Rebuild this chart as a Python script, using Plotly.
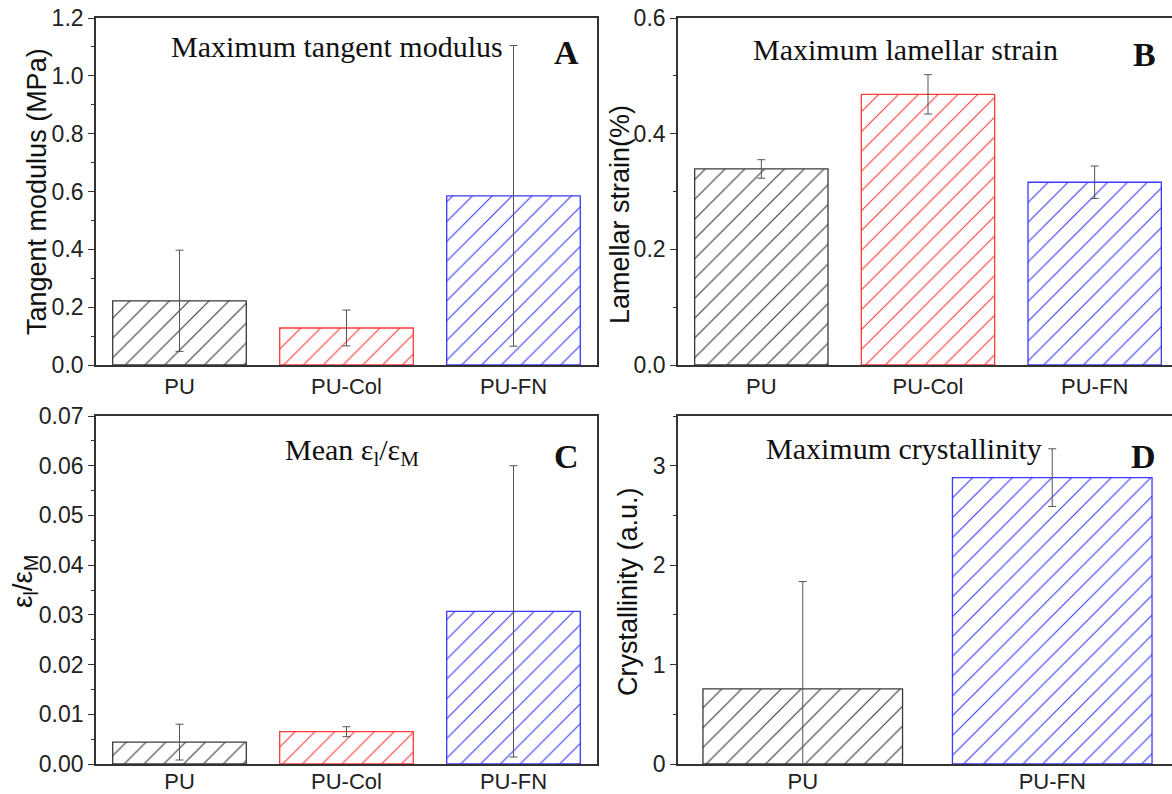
import plotly.graph_objects as go

W, H = 1172, 794

cats_abc = ["PU", "PU-Col", "PU-FN"]
cats_d = ["PU", "PU-FN"]
colors_abc = ["#3a3a3a", "#ff3b3b", "#3b3bff"]
colors_d = ["#3a3a3a", "#3b3bff"]

modulus_vals = [0.222, 0.128, 0.585]
modulus_err = [0.175, 0.062, 0.520]
strain_vals = [0.339, 0.468, 0.316]
strain_err = [0.016, 0.034, 0.028]
ratio_vals = [0.0044, 0.0065, 0.0307]
ratio_err = [0.0036, 0.0010, 0.0293]
cryst_vals = [0.755, 2.88]
cryst_err = [1.08, 0.29]

SANS = "Liberation Sans, Arial, sans-serif"
SERIF = "Liberation Serif, Times New Roman, serif"

fig = go.Figure()


def add_bars(xa, ya, cats, vals, errs, cols):
    fig.add_trace(go.Bar(
        x=cats, y=vals, xaxis=xa, yaxis=ya, width=0.8,
        marker=dict(color="white", line=dict(color=cols, width=1.3),
                    pattern=dict(shape="/", fgcolor=cols, fgopacity=1, size=14, solidity=0.08,
                                 fillmode="overlay")),
        error_y=dict(type="data", array=errs, color="#555555", thickness=1, width=4),
        showlegend=False,
    ))


add_bars("x", "y", cats_abc, modulus_vals, modulus_err, colors_abc)
add_bars("x2", "y2", cats_abc, strain_vals, strain_err, colors_abc)
add_bars("x3", "y3", cats_abc, ratio_vals, ratio_err, colors_abc)
add_bars("x4", "y4", cats_d, cryst_vals, cryst_err, colors_d)


def px_x(v):
    return v / W


def px_y(v):
    return 1 - v / H


LINE = "#333333"
xa_top = dict(showline=True, linecolor=LINE, linewidth=1.6, mirror=True, ticks="",
              showgrid=False, zeroline=False, automargin=False,
              tickfont=dict(family=SANS, size=22, color="#222"),
              ticklabelstandoff=1)
xa_bot = dict(xa_top, ticklabelstandoff=-3)
ya_common = dict(showline=True, linecolor=LINE, linewidth=1.6, ticks="outside", ticklen=6,
                 tickwidth=1.3, tickcolor=LINE, showgrid=False, zeroline=False, automargin=False,
                 tickfont=dict(family=SANS, size=23, color="#222"))

xdomL = [px_x(96), px_x(597)]
xdomR = [px_x(678), 1.0]
ydomT = [px_y(365), px_y(18)]
ydomB = [px_y(764), px_y(416)]

fig.update_layout(
    width=W, height=H, margin=dict(l=0, r=0, t=0, b=0),
    plot_bgcolor="white", paper_bgcolor="white", bargap=0.2,
    xaxis=dict(domain=xdomL, anchor="y", range=[-0.5, 2.5], **xa_top),
    yaxis=dict(domain=ydomT, anchor="x", range=[0, 1.2], dtick=0.2, tickformat=".1f", mirror=True,
               minor=dict(dtick=0.1, ticks="outside", ticklen=3, tickcolor=LINE), **ya_common),
    xaxis2=dict(domain=xdomR, anchor="y2", range=[-0.5, 2.464], **xa_top),
    yaxis2=dict(domain=ydomT, anchor="x2", range=[0, 0.6], dtick=0.2, tickformat=".1f", mirror=False,
                minor=dict(dtick=0.1, ticks="outside", ticklen=3, tickcolor=LINE), **ya_common),
    xaxis3=dict(domain=xdomL, anchor="y3", range=[-0.5, 2.5], **xa_bot),
    yaxis3=dict(domain=ydomB, anchor="x3", range=[0, 0.07], dtick=0.01, tickformat=".2f", mirror=True,
                minor=dict(dtick=0.005, ticks="outside", ticklen=3, tickcolor=LINE), **ya_common),
    xaxis4=dict(domain=xdomR, anchor="y4", range=[-0.5, 1.48], **xa_bot),
    yaxis4=dict(domain=ydomB, anchor="x4", range=[0, 3.5], dtick=1, tickformat="d", mirror=False,
                minor=dict(dtick=0.5, ticks="outside", ticklen=3, tickcolor=LINE), **ya_common),
)

ann = []
# panel titles
for txt, cx, cy in [("Maximum tangent modulus", 337, 47),
                    ("Maximum lamellar strain", 905, 50),
                    ("Mean ε<sub>l</sub>/ε<sub>M</sub>", 352, 452),
                    ("Maximum crystallinity", 904, 448)]:
    ann.append(dict(text=txt, x=px_x(cx), y=px_y(cy), xref="paper", yref="paper",
                    showarrow=False, xanchor="center", yanchor="middle",
                    font=dict(family=SERIF, size=30, color="#111")))
# panel letters
for txt, cx, cy in [("A", 566, 52), ("B", 1144, 54), ("C", 566, 456), ("D", 1143, 456)]:
    ann.append(dict(text="<b>%s</b>" % txt, x=px_x(cx), y=px_y(cy), xref="paper", yref="paper",
                    showarrow=False, xanchor="center", yanchor="middle",
                    font=dict(family=SERIF, size=34, color="#111")))
# axis titles
for txt, cx, cy, sz in [("Tangent modulus (MPa)", 37, 192, 27),
                        ("Lamellar strain(%)", 620, 215, 27),
                        ("ε<sub>l</sub>/ε<sub>M</sub>", 24, 582, 28),
                        ("Crystallinity (a.u.)", 628, 592, 27)]:
    ann.append(dict(text=txt, x=px_x(cx), y=px_y(cy), xref="paper", yref="paper",
                    showarrow=False, xanchor="center", yanchor="middle", textangle=-90,
                    font=dict(family=SANS, size=sz, color="#111")))
fig.update_layout(annotations=ann)

fig.write_html("out.html")
